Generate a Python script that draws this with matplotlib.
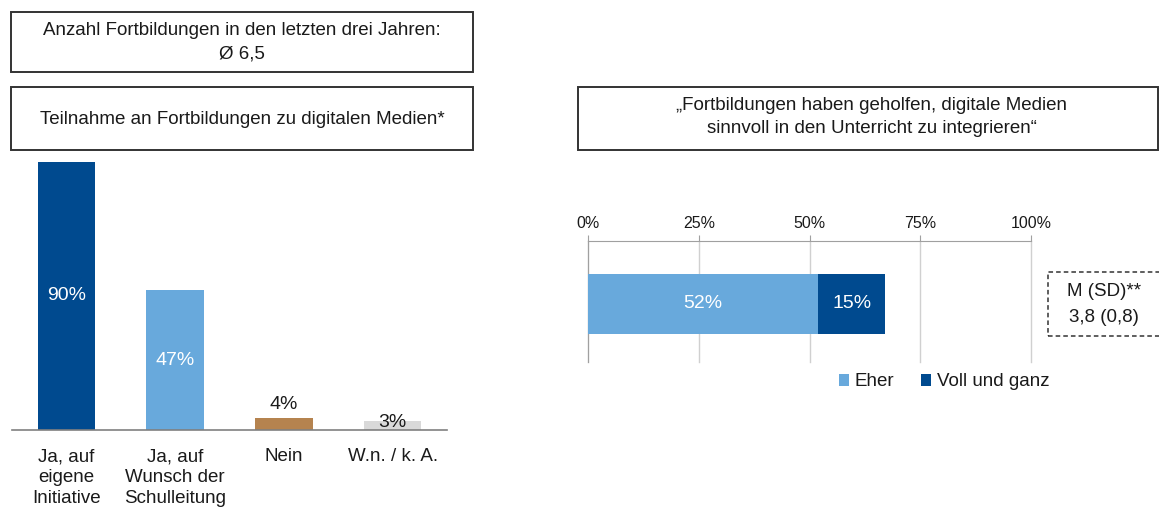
import matplotlib.pyplot as plt
from matplotlib.patches import Rectangle, Patch

plt.rcParams['font.family'] = ['Liberation Sans', 'DejaVu Sans']

# data
categories = ['Ja, auf\neigene\nInitiative', 'Ja, auf\nWunsch der\nSchulleitung', 'Nein', 'W.n. / k. A.']
shares = [90, 47, 4, 3]
bar_colors = ['#004A8F', '#68A9DC', '#B5834F', '#D9D9D9']

help_labels = ['Eher', 'Voll und ganz']
help_values = [52, 15]
help_colors = ['#68A9DC', '#004A8F']
x_ticks = [0, 25, 50, 75, 100]

W, H = 1159, 507
fig = plt.figure(figsize=(W / 100, H / 100), dpi=100)
txt = '#1a1a1a'
fs = 13.5

def px(x0, y0, x1, y1):
    # pixel box (top-left origin) -> figure fraction rect
    return [x0 / W, 1 - y1 / H, (x1 - x0) / W, (y1 - y0) / H]

def box(x0, y0, x1, y1, **kw):
    r = px(x0, y0, x1, y1)
    fig.patches.append(Rectangle((r[0], r[1]), r[2], r[3], transform=fig.transFigure,
                                 fill=False, **kw))

# header boxes
box(11, 12, 473, 72, edgecolor='#333333', linewidth=1.4)
fig.text(242 / W, 1 - 42 / H, 'Anzahl Fortbildungen in den letzten drei Jahren:\nØ 6,5',
         ha='center', va='center', fontsize=fs, color=txt, linespacing=1.5)
box(11, 87, 473, 150, edgecolor='#333333', linewidth=1.4)
fig.text(242 / W, 1 - 120 / H, 'Teilnahme an Fortbildungen zu digitalen Medien*',
         ha='center', va='center', fontsize=fs, color=txt)
box(578, 87, 1158, 150, edgecolor='#333333', linewidth=1.4)
fig.text(872 / W, 1 - 117 / H, '„Fortbildungen haben geholfen, digitale Medien\nsinnvoll in den Unterricht zu integrieren“',
         ha='center', va='center', fontsize=fs, color=txt, linespacing=1.5)

# left: column chart
ax = fig.add_axes(px(12, 156, 447, 430))
xs = range(len(shares))
ax.bar(xs, shares, width=0.53, color=bar_colors)
ax.set_xlim(-0.5, 3.5)
ax.set_ylim(0, 92)
small_label_dy = [None, None, 14, -1]  # pixel offset above bar top, as placed in the original
for i, v in enumerate(shares):
    if v > 20:
        ax.text(i, v / 2, f'{v}%', ha='center', va='center', color='white', fontsize=14)
    else:
        ax.annotate(f'{v}%', (i, v), xytext=(0, small_label_dy[i]), textcoords='offset pixels',
                    ha='center', va='center', color=txt, fontsize=14)
ax.set_xticks(list(xs))
ax.set_xticklabels(categories, fontsize=fs, color=txt, linespacing=1.32, va='top')
ax.tick_params(axis='x', length=0, pad=13)
ax.set_yticks([])
for s in ['top', 'left', 'right']:
    ax.spines[s].set_visible(False)
ax.spines['bottom'].set_color('#808080')
ax.spines['bottom'].set_linewidth(1.2)

# right: stacked horizontal bar
ax2 = fig.add_axes(px(588, 241, 1031, 362))
left = 0
for lab, v, c in zip(help_labels, help_values, help_colors):
    ax2.barh(0.48, v, left=left, height=0.5, color=c, label=lab, zorder=3)
    ax2.text(left + v / 2, 0.48, f'{v}%', ha='center', va='center', color='white', fontsize=14, zorder=4)
    left += v
ax2.set_xlim(0, 100)
ax2.set_ylim(0, 1)
ax2.set_xticks(x_ticks)
ax2.set_xticklabels([f'{t}%' for t in x_ticks], fontsize=11.5, color=txt)
ax2.xaxis.tick_top()
ax2.tick_params(axis='x', length=4, color='#a0a0a0', pad=3)
ax2.set_yticks([])
ax2.grid(axis='x', color='#d0d0d0', linewidth=1, zorder=0)
for gl in ax2.get_xgridlines():
    gl.set_clip_on(False)
for s in ['bottom', 'right']:
    ax2.spines[s].set_visible(False)
ax2.spines['top'].set_color('#a0a0a0')
ax2.spines['left'].set_color('#a0a0a0')

handles = [Patch(facecolor=c, label=l) for l, c in zip(help_labels, help_colors)]
fig.legend(handles=handles, loc='center', bbox_to_anchor=(944 / W, 1 - 382 / H), ncol=2,
           frameon=False, fontsize=fs, handlelength=0.55, handleheight=0.55,
           handletextpad=0.3, columnspacing=1.4, labelcolor=txt)

# M (SD) box
box(1048, 272, 1165, 336, edgecolor='#333333', linewidth=1.1, linestyle=(0, (3, 2)))
fig.text(1104 / W, 1 - 292 / H, 'M (SD)**', ha='center', va='center', fontsize=fs, color=txt)
fig.text(1104 / W, 1 - 318 / H, '3,8 (0,8)', ha='center', va='center', fontsize=fs, color=txt)

fig.savefig('out.png', dpi=100)
